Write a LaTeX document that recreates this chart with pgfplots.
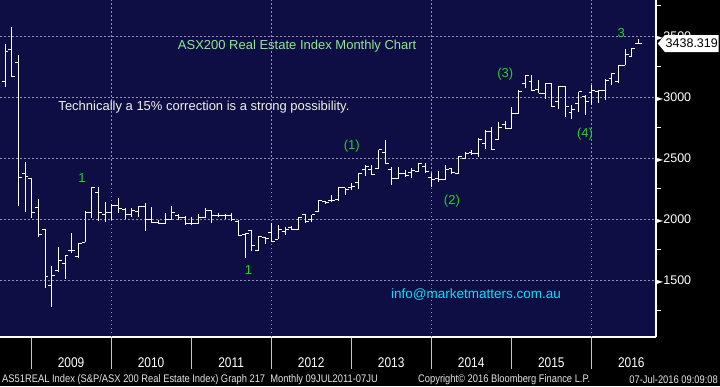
\documentclass[border=0pt]{standalone}
\usepackage{fontspec}
\setmainfont{Liberation Sans}
\newfontfamily\condfont[FakeStretch=0.85]{Liberation Sans}
\newfontfamily\symfont{DejaVu Sans}
\usepackage{pgfplots}
\pgfplotsset{compat=1.18}
\usepackage{pgfplotstable}
\usetikzlibrary{shapes.symbols}
\definecolor{bbnavy}{RGB}{15,14,68}
\definecolor{gridgray}{RGB}{150,150,170}
\definecolor{titlegreen}{RGB}{140,235,140}
\definecolor{wavegreen}{RGB}{30,215,30}
\definecolor{mailcyan}{RGB}{0,225,255}
\definecolor{sepgray}{RGB}{200,200,200}
\pgfdeclareplotmark{otick}{\pgfpathmoveto{\pgfqpoint{-3.4pt}{0pt}}\pgfpathlineto{\pgfqpoint{0pt}{0pt}}\pgfusepathqstroke}
\pgfdeclareplotmark{ctick}{\pgfpathmoveto{\pgfqpoint{0pt}{0pt}}\pgfpathlineto{\pgfqpoint{3.4pt}{0pt}}\pgfusepathqstroke}

\pgfplotstableread{
m o h l c
-4 3131 3434 3082 3371
-3 3391 3576 3166 3170
-2 3279 3344 2107 2344
-1 2377 2467 2057 2352
0 2336 2336 2008 2057
1 2098 2164 1852 1869
2 1918 1918 1434 1525
3 1459 1615 1279 1541
4 1574 1770 1566 1656
5 1639 1705 1508 1697
6 1738 1885 1721 1746
7 1689 1803 1680 1803
8 1811 2066 1811 2057
9 2057 2262 2008 2262
10 2221 2262 1984 2057
11 2041 2139 1975 2057
12 2057 2125 1995 2110
13 2110 2169 2046 2090
14 2080 2090 1997 2040
15 2040 2087 2019 2070
16 2065 2106 2019 2100
17 2100 2128 1904 2000
18 2000 2096 1964 1975
19 1975 1992 1959 1965
20 1965 2046 1960 2000
21 2000 2106 2000 2050
22 2030 2040 1992 2010
23 2010 2024 1951 1960
24 1960 2019 1955 1965
25 1965 2041 1960 2010
26 2010 2087 2005 2070
27 2070 2074 1964 2030
28 2030 2046 2014 2025
29 2025 2038 1997 2025
30 2025 2046 1986 1992
31 1978 1992 1863 1863
32 1874 1883 1683 1880
33 1902 1902 1740 1787
34 1746 1863 1740 1855
35 1847 1855 1795 1840
36 1890 1970 1814 1814
37 1833 1951 1833 1918
38 1896 1932 1869 1910
39 1932 1943 1910 1918
40 1910 2014 1910 2014
41 2033 2041 1970 1978
42 1997 2033 1978 2033
43 2060 2156 2060 2150
44 2145 2150 2128 2134
45 2150 2197 2142 2150
46 2156 2265 2150 2260
47 2257 2257 2197 2238
48 2260 2298 2238 2270
49 2301 2380 2246 2374
50 2402 2443 2353 2434
51 2402 2443 2361 2366
52 2415 2566 2415 2566
53 2546 2648 2451 2456
54 2407 2424 2279 2333
55 2333 2424 2333 2369
56 2369 2402 2342 2353
57 2380 2415 2333 2396
58 2388 2462 2388 2456
59 2429 2462 2374 2388
60 2342 2374 2265 2320
61 2333 2394 2306 2320
62 2325 2443 2320 2407
63 2410 2415 2374 2380
64 2374 2516 2374 2511
65 2497 2552 2489 2538
66 2546 2566 2525 2533
67 2533 2661 2511 2653
68 2615 2730 2571 2716
69 2716 2757 2566 2571
70 2648 2798 2648 2751
71 2771 2803 2743 2743
72 2743 2921 2743 2866
73 2866 3057 2866 3044
74 3112 3180 3071 3180
75 3126 3180 3052 3057
76 3063 3139 3030 3030
77 3030 3118 2981 3112
78 3112 3112 2915 2926
79 2962 3090 2899 3090
80 3090 3090 2839 2926
81 2872 2935 2817 2899
82 2948 3044 2880 3044
83 3008 3017 2853 2962
84 3036 3098 2935 3052
85 3044 3057 2948 3057
86 3057 3145 2976 3139
87 3153 3194 3099 3194
88 3126 3262 3112 3262
89 3262 3391 3262 3350
90 3331 3404 3325 3399
91 3435 3473 3435 3440
}\ohlc

\begin{document}
\begin{tikzpicture}
\fill[black] (0pt,0pt) rectangle (720pt,386pt);
\useasboundingbox (0pt,0pt) rectangle (720pt,386pt);
\begin{axis}[
  at={(0pt,49pt)}, anchor=south west,
  scale only axis, width=656pt, height=337pt,
  xmin=-4.75, xmax=93.6, ymin=1033, ymax=3795,
  axis background/.style={fill=bbnavy},
  axis x line*=bottom, axis y line*=right,
  axis line style={white, line width=1.3pt},
  clip=false,
  tick align=outside,
  major tick length=32pt,
  minor tick length=5pt,
  xtick={-0.1,11.9,23.9,35.9,47.9,59.9,71.9,83.9},
  xticklabels={2009,2010,2011,2012,2013,2014,2015,2016},
  major x tick style={sepgray, line width=0.8pt},
  xticklabel style={font=\condfont\fontsize{14}{14}\selectfont, text=white, xshift=40pt, yshift=15pt},
  extra x ticks={11.9,35.9,59.9,83.9},
  extra x tick labels={},
  extra x tick style={xmajorgrids=true, major x tick style={draw=none}},
  ytick={1500,2000,2500,3000,3500},
  minor ytick={1250,1750,2250,2750,3250,3750},
  ymajorgrids=true,
  major grid style={gridgray, line width=0.7pt, dash pattern=on 1.5pt off 2.5pt},
  major y tick style={draw=none},
  minor y tick style={white, line width=0.9pt},
  yticklabel pos=right,
  yticklabel style={anchor=west, inner sep=0pt, xshift=-31pt, text=white, font=\fontsize{12.5}{12.5}\selectfont},
  yticklabel={{\symfont\fontsize{8}{8}\selectfont ►}\pgfmathprintnumber[1000 sep={}]{\tick}},
  /pgf/number format/assume math mode=true,
]
\addplot[draw=none, mark=none, forget plot,
  error bars/.cd, y dir=both, y explicit, error mark=none,
  error bar style={draw=white, line width=1pt}]
  table[x=m, y=c, y error plus expr=\thisrow{h}-\thisrow{c}, y error minus expr=\thisrow{c}-\thisrow{l}] {\ohlc};
\addplot[only marks, mark=otick, mark options={draw=white, line width=1pt}] table[x=m, y=o] {\ohlc};
\addplot[only marks, mark=ctick, mark options={draw=white, line width=1pt}] table[x=m, y=c] {\ohlc};

\node[text=titlegreen, font=\fontsize{13}{13}\selectfont, inner sep=0pt] at (axis cs:39.8,3418) {ASX200 Real Estate Index Monthly Chart};
\node[text=white!94!black, font=\fontsize{13}{13}\selectfont, inner sep=0pt, anchor=west] at (axis cs:3.99,2920) {Technically a 15\% correction is a strong possibility.};
\node[text=mailcyan, font=\fontsize{13.5}{13.5}\selectfont, inner sep=0pt, anchor=west] at (axis cs:53.87,1385) {info@marketmatters.com.au};
\begin{scope}[every node/.style={text=wavegreen, font=\fontsize{13}{13}\selectfont, inner sep=0pt}]
\node at (axis cs:7.54,2336) {1};
\node at (axis cs:32.5,1582) {1};
\node at (axis cs:48.0,2598) {(1)};
\node at (axis cs:63.0,2148) {(2)};
\node at (axis cs:71.0,3189) {(3)};
\node at (axis cs:82.95,2697) {(4)};
\node at (axis cs:88.4,3525) {3};
\end{scope}
\node[signal, signal to=west, signal pointer angle=100, fill=white, text=black, inner xsep=0.8pt, inner ysep=1.5pt, minimum height=17pt, anchor=west, font=\fontsize{12.5}{12.5}\selectfont] at (axis cs:93.6,3438.319) [xshift=1.5pt] {3438.319};
\end{axis}
\begin{scope}[every node/.style={text=white!90!black, font=\condfont\fontsize{11}{11}\selectfont, inner sep=0pt}]
\node[anchor=west] at (2pt,6.5pt) {AS51REAL Index (S\&P/ASX 200 Real Estate Index) Graph 217\ \ Monthly 09JUL2011-07JU};
\node[anchor=west] at (418pt,6.5pt) {Copyright© 2016 Bloomberg Finance L.P.};
\node[anchor=east] at (718pt,6.5pt) {07-Jul-2016 09:09:08};
\end{scope}
\end{tikzpicture}
\end{document}
